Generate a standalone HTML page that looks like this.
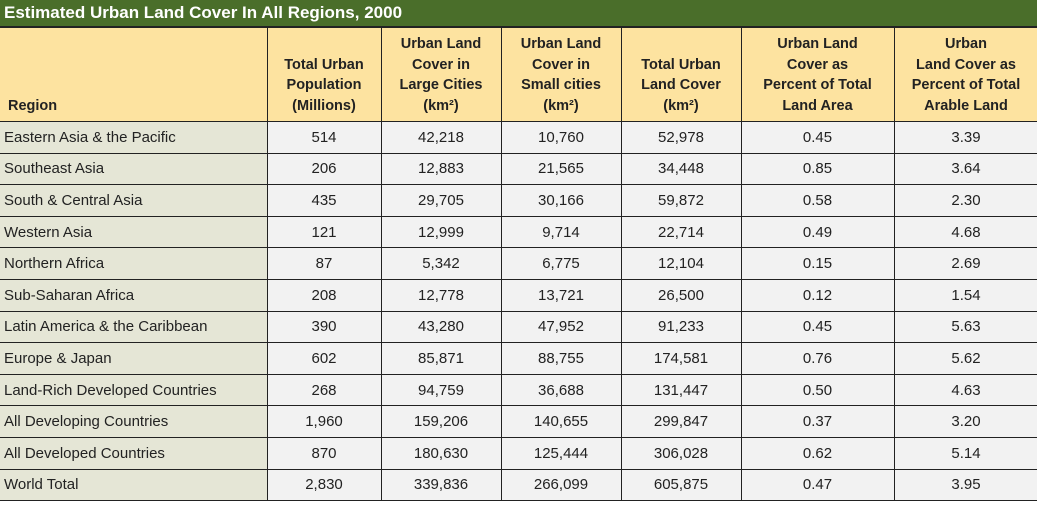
<!DOCTYPE html>
<html><head><meta charset="utf-8"><style>
body{margin:0;width:1037px;height:508px;background:#fff;overflow:hidden;font-family:"Liberation Sans",sans-serif;}
#title{position:absolute;left:0;top:0;width:1037px;height:27px;background:#4a6e2a;color:#fff;font-weight:bold;font-size:17px;line-height:26px;padding-left:4px;box-sizing:border-box;border-bottom:1px solid #222;}
table{position:absolute;left:0;top:27px;border-collapse:collapse;table-layout:fixed;width:1038px;}
td,th{border:1px solid #222;padding:0;font-size:15px;color:#222;}
th{background:#fde3a0;font-weight:bold;font-size:14.5px;line-height:20.5px;vertical-align:bottom;padding-bottom:5px;height:88px;}
td{background:#f2f2f2;text-align:center;height:30.6px;}
td.r{background:#e5e6d6;text-align:left;padding-left:4px;}
th.r{text-align:left;padding-left:8px;border-left:none}
tr td:first-child{border-left:none}
</style></head><body>
<div id="title">Estimated Urban Land Cover In All Regions, 2000</div>
<table>
<colgroup><col style="width:267px"><col style="width:114px"><col style="width:120px"><col style="width:120px"><col style="width:120px"><col style="width:153px"><col style="width:144px"></colgroup>
<tr>
<th class="r">Region</th>
<th>Total Urban<br>Population<br>(Millions)</th>
<th>Urban Land<br>Cover in<br>Large Cities<br>(km²)</th>
<th>Urban Land<br>Cover in<br>Small cities<br>(km²)</th>
<th>Total Urban<br>Land Cover<br>(km²)</th>
<th>Urban Land<br>Cover as<br>Percent of Total<br>Land Area</th>
<th>Urban<br>Land Cover as<br>Percent of Total<br>Arable Land</th>
</tr>
<tr><td class="r">Eastern Asia &amp; the Pacific</td><td>514</td><td>42,218</td><td>10,760</td><td>52,978</td><td>0.45</td><td>3.39</td></tr>
<tr><td class="r">Southeast Asia</td><td>206</td><td>12,883</td><td>21,565</td><td>34,448</td><td>0.85</td><td>3.64</td></tr>
<tr><td class="r">South &amp; Central Asia</td><td>435</td><td>29,705</td><td>30,166</td><td>59,872</td><td>0.58</td><td>2.30</td></tr>
<tr><td class="r">Western Asia</td><td>121</td><td>12,999</td><td>9,714</td><td>22,714</td><td>0.49</td><td>4.68</td></tr>
<tr><td class="r">Northern Africa</td><td>87</td><td>5,342</td><td>6,775</td><td>12,104</td><td>0.15</td><td>2.69</td></tr>
<tr><td class="r">Sub-Saharan Africa</td><td>208</td><td>12,778</td><td>13,721</td><td>26,500</td><td>0.12</td><td>1.54</td></tr>
<tr><td class="r">Latin America &amp; the Caribbean</td><td>390</td><td>43,280</td><td>47,952</td><td>91,233</td><td>0.45</td><td>5.63</td></tr>
<tr><td class="r">Europe &amp; Japan</td><td>602</td><td>85,871</td><td>88,755</td><td>174,581</td><td>0.76</td><td>5.62</td></tr>
<tr><td class="r">Land-Rich Developed Countries</td><td>268</td><td>94,759</td><td>36,688</td><td>131,447</td><td>0.50</td><td>4.63</td></tr>
<tr><td class="r">All Developing Countries</td><td>1,960</td><td>159,206</td><td>140,655</td><td>299,847</td><td>0.37</td><td>3.20</td></tr>
<tr><td class="r">All Developed Countries</td><td>870</td><td>180,630</td><td>125,444</td><td>306,028</td><td>0.62</td><td>5.14</td></tr>
<tr><td class="r">World Total</td><td>2,830</td><td>339,836</td><td>266,099</td><td>605,875</td><td>0.47</td><td>3.95</td></tr>
</table>
</body></html>
